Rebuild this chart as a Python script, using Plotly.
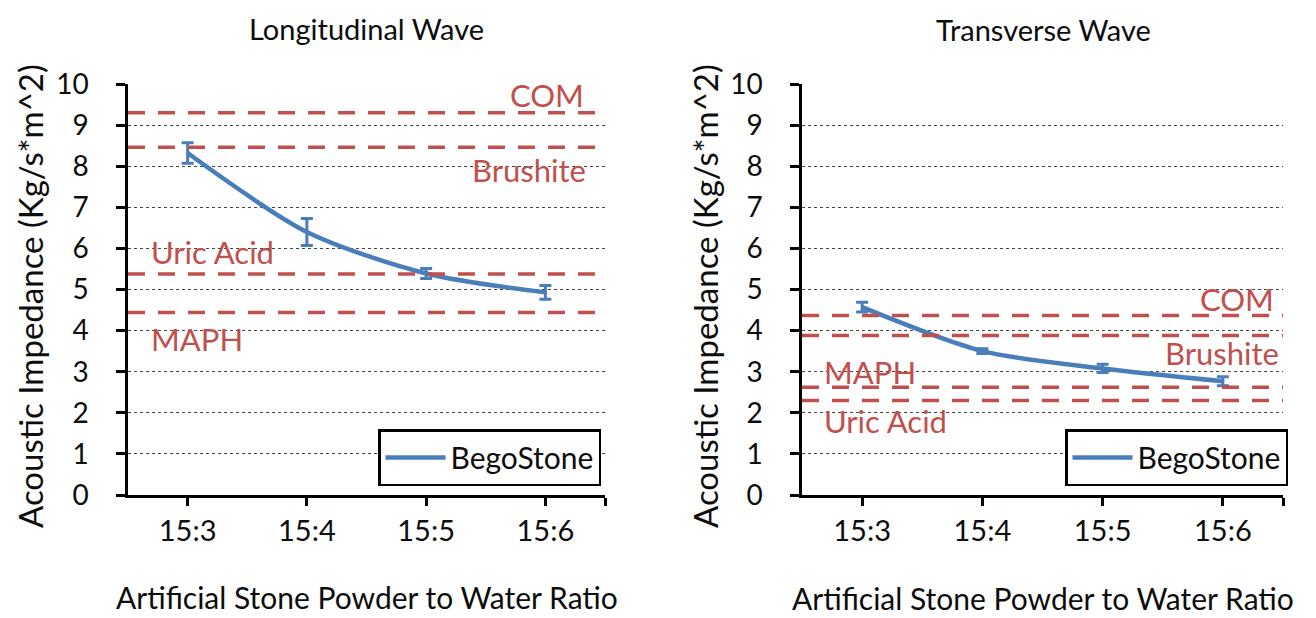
import plotly.graph_objects as go

# ---------------- data ----------------
categories = ["15:3", "15:4", "15:5", "15:6"]

long_values = [8.32, 6.40, 5.39, 4.93]
long_errors = [0.25, 0.33, 0.12, 0.17]

trans_values = [4.57, 3.50, 3.08, 2.77]
trans_errors = [0.12, 0.06, 0.10, 0.11]

stone_names = ["COM", "Brushite", "Uric Acid", "MAPH"]
long_reference = [9.30, 8.46, 5.38, 4.44]
trans_reference = [4.37, 3.88, 2.30, 2.62]

y_ticks = list(range(0, 11))
series_name = "BegoStone"
panel_titles = ["Longitudinal Wave", "Transverse Wave"]
x_title = "Artificial Stone Powder to Water Ratio"
y_title = "Acoustic Impedance (Kg/s*m^2)"

# ---------------- style ----------------
# page body has an 8px default margin; work in screenshot pixels and convert
OFF = 8
W, H = 1316 - OFF, 618 - OFF
FONT = "Lato, 'Open Sans', sans-serif"
BLUE = "#4A7EBB"
RED = "#C0504D"
TXT = "#0d0d0d"
x_pos = list(range(len(categories)))

def px_x(p):
    return (p - OFF) / W

def px_y(p):
    return 1 - (p - OFF) / H

fig = go.Figure()

panels = [
    dict(xa="x", ya="y", vals=long_values, errs=long_errors, refs=long_reference,
         dom=(128, 605), legend="legend", leg_right=601,
         title_xy=(366, 28), ytitle_x=30, xtitle_y=597,
         label_pos={"COM": (0.96, "right", 18), "Brushite": (0.964, "right", -23),
                    "Uric Acid": (0.044, "left", 22), "MAPH": (0.044, "left", -26)}),
    dict(xa="x2", ya="y2", vals=trans_values, errs=trans_errors, refs=trans_reference,
         dom=(802, 1283), legend="legend2", leg_right=1288,
         title_xy=(1043, 30), ytitle_x=705, xtitle_y=598,
         label_pos={"COM": (0.985, "right", 16), "Brushite": (0.996, "right", -17),
                    "Uric Acid": (0.042, "left", -21), "MAPH": (0.042, "left", 15)}),
]

y_dom = [px_y(495), px_y(84)]

for i, p in enumerate(panels):
    fig.add_trace(go.Scatter(
        x=x_pos, y=p["vals"], mode="lines", name=series_name,
        line=dict(color=BLUE, width=4.5, shape="spline", smoothing=0.8),
        error_y=dict(type="data", array=p["errs"], visible=True,
                     color=BLUE, thickness=3, width=6),
        xaxis=p["xa"], yaxis=p["ya"], legend=p["legend"], showlegend=True,
    ))
    sfx = "" if i == 0 else "2"
    # reference dashed lines + labels
    for name, val in zip(stone_names, p["refs"]):
        fig.add_shape(type="line", xref=f"x{sfx} domain", yref=f"y{sfx}",
                      x0=0, x1=1, y0=val, y1=val,
                      line=dict(color=RED, width=3.5, dash="17px,13px"), layer="above")
        fx, anchor, shift = p["label_pos"][name]
        fig.add_annotation(text=name, xref=f"x{sfx} domain", yref=f"y{sfx}",
                           x=fx, y=val, xanchor=anchor, yanchor="middle", yshift=shift,
                           showarrow=False, font=dict(family=FONT, size=31, color=RED))
    # panel title
    tx, ty = p["title_xy"]
    fig.add_annotation(text=panel_titles[i], xref="paper", yref="paper",
                       x=px_x(tx), y=px_y(ty), xanchor="center", yanchor="middle",
                       showarrow=False, font=dict(family=FONT, size=29, color=TXT))
    # axis titles
    d0, d1 = p["dom"]
    fig.add_annotation(text=x_title, xref="paper", yref="paper",
                       x=px_x((d0 + d1) / 2), y=px_y(p["xtitle_y"]),
                       xanchor="center", yanchor="middle", showarrow=False,
                       font=dict(family=FONT, size=30, color=TXT))
    fig.add_annotation(text=y_title, xref="paper", yref="paper", textangle=-90,
                       x=px_x(p["ytitle_x"]), y=px_y(296),
                       xanchor="center", yanchor="middle", showarrow=False,
                       font=dict(family=FONT, size=33, color=TXT))

    fig.update_layout(**{
        f"xaxis{sfx}": dict(
            domain=[px_x(d0), px_x(d1)], range=[-0.5, len(categories) - 0.5],
            tickmode="array", tickvals=x_pos + [len(categories) - 0.5],
            ticktext=categories + [""],
            showline=True, linecolor="black", linewidth=2.5,
            ticks="outside", ticklen=8, tickwidth=2.5, tickcolor="black",
            showgrid=False, zeroline=False, fixedrange=True, automargin=False,
            tickfont=dict(family=FONT, size=29, color=TXT),
            anchor=f"y{sfx}",
        ),
        f"yaxis{sfx}": dict(
            domain=y_dom, range=[0, 10], tickmode="array", tickvals=y_ticks,
            showline=True, linecolor="black", linewidth=2.5,
            ticks="outside", ticklen=9, tickwidth=2.5, tickcolor="black",
            ticklabelstandoff=22,
            showgrid=True, gridcolor="#444", griddash="dot", gridwidth=1,
            zeroline=False, fixedrange=True, automargin=False,
            tickfont=dict(family=FONT, size=28, color=TXT),
            anchor=f"x{sfx}",
        ),
        p["legend"]: dict(
            x=px_x(p["leg_right"]), xanchor="right", y=px_y(486), yanchor="bottom",
            bordercolor="black", borderwidth=2.5, bgcolor="white",
            font=dict(family=FONT, size=30, color=TXT), itemwidth=60,
        ),
    })

fig.update_layout(
    width=W, height=H, margin=dict(l=0, r=0, t=0, b=0, autoexpand=False),
    paper_bgcolor="white", plot_bgcolor="white",
    font=dict(family=FONT),
)

fig.write_html("out.html")
